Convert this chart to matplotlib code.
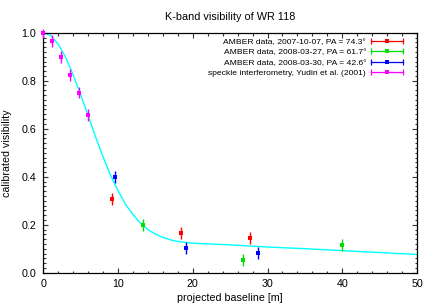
import matplotlib
matplotlib.use("Agg")
import matplotlib.pyplot as plt
from matplotlib.lines import Line2D
from matplotlib.legend_handler import HandlerLine2D, HandlerTuple
from matplotlib.ticker import MultipleLocator
from matplotlib.font_manager import FontProperties

plt.rcParams['font.family'] = ['Liberation Sans', 'DejaVu Sans']

# ---- data ----
speckle_x = [0.0, 1.2, 2.4, 3.6, 4.8, 6.0]
speckle_v = [0.998, 0.965, 0.898, 0.823, 0.750, 0.658]
speckle_e = [0.019, 0.024, 0.026, 0.024, 0.024, 0.025]

amb1_x = [9.2, 18.4, 27.6]
amb1_v = [0.307, 0.167, 0.145]
amb1_e = [0.025, 0.025, 0.025]

amb2_x = [13.3, 26.7, 40.0]
amb2_v = [0.200, 0.052, 0.116]
amb2_e = [0.025, 0.025, 0.025]

amb3_x = [9.56, 19.1, 28.67]
amb3_v = [0.397, 0.104, 0.081]
amb3_e = [0.025, 0.025, 0.025]

model_x = [0, 1, 2, 3, 4, 5, 6, 7, 8, 9, 10, 11, 12, 13, 14, 15, 16, 17, 18,
           20, 22, 25, 30, 35, 40, 45, 50]
model_v = [1.0, 0.988, 0.952, 0.896, 0.824, 0.741, 0.655, 0.565, 0.482, 0.406,
           0.341, 0.285, 0.242, 0.206, 0.180, 0.161, 0.147, 0.137, 0.130,
           0.123, 0.120, 0.116, 0.107, 0.100, 0.092, 0.084, 0.076]

labels = ["AMBER data, 2007-10-07, PA = 74.3°",
          "AMBER data, 2008-03-27, PA = 61.7°",
          "AMBER data, 2008-03-30, PA = 42.6°",
          "speckle interferometry, Yudin et al. (2001)"]
colors = ["#ff0000", "#00e000", "#0000ff", "#ff00ff"]

fig = plt.figure(figsize=(4.36, 3.05), dpi=100)
ax = fig.add_axes([43.3/436, 1 - 272.7/305, (417 - 43.3)/436, (272.7 - 32.7)/305])

ax.plot(model_x, model_v, color="#00ffff", lw=1.0, zorder=2)

series = [(amb1_x, amb1_v, amb1_e), (amb2_x, amb2_v, amb2_e),
          (amb3_x, amb3_v, amb3_e), (speckle_x, speckle_v, speckle_e)]
for (x, v, e), c in zip(series, colors):
    cont = ax.errorbar(x, v, yerr=e, fmt='s', color=c, ms=3.2, mew=0, elinewidth=1.0,
                       capsize=2, capthick=1.0, zorder=3)
    for art in cont.get_children():
        art.set_clip_on(False)

ax.set_xlim(0, 50)
ax.set_ylim(0, 1.0)
ax.xaxis.set_major_locator(MultipleLocator(10))
ax.xaxis.set_minor_locator(MultipleLocator(2))
ax.yaxis.set_major_locator(MultipleLocator(0.2))
ax.yaxis.set_minor_locator(MultipleLocator(0.02))
ax.yaxis.set_major_formatter(matplotlib.ticker.FormatStrFormatter('%.1f'))
ax.tick_params(which='both', direction='in', top=True, right=True, width=0.8,
               labelsize=7.7, color='#333333')
ax.tick_params(which='major', length=3.5)
ax.tick_params(which='minor', length=1.8)
ax.tick_params(axis='y', pad=5.0)
ax.tick_params(axis='x', pad=4.5)
for s in ax.spines.values():
    s.set_linewidth(0.9)

ax.set_xlabel("projected baseline [m]", fontsize=7.7, labelpad=3)
ax.set_ylabel("calibrated visibility", fontsize=7.7, labelpad=7)
ax.set_title("K-band visibility of WR 118", fontsize=7.8, pad=9)

handles = []
hmap = {}
for c in colors:
    bar = Line2D([], [], color=c, lw=0.9, marker='|', ms=4, mew=0.9)
    sq = Line2D([], [], color=c, lw=0, marker='s', ms=3.2, mew=0)
    hmap[bar] = HandlerLine2D(numpoints=2, marker_pad=0)
    hmap[sq] = HandlerLine2D(numpoints=1)
    handles.append((bar, sq))
hmap[tuple] = HandlerTuple(ndivide=1)
leg = ax.legend(handles, labels, handler_map=hmap, loc='upper right',
                bbox_to_anchor=(0.975, 1.0), frameon=False,
                prop=FontProperties(family=['Liberation Sans', 'DejaVu Sans'], size=6.1),
                markerfirst=False, handlelength=3.7, handletextpad=0.6,
                labelspacing=0.3, borderaxespad=0.2)
for t in leg.get_texts():
    t.set_ha('right')
leg._legend_box.align = "right"

fig.savefig("out.png", dpi=100)
